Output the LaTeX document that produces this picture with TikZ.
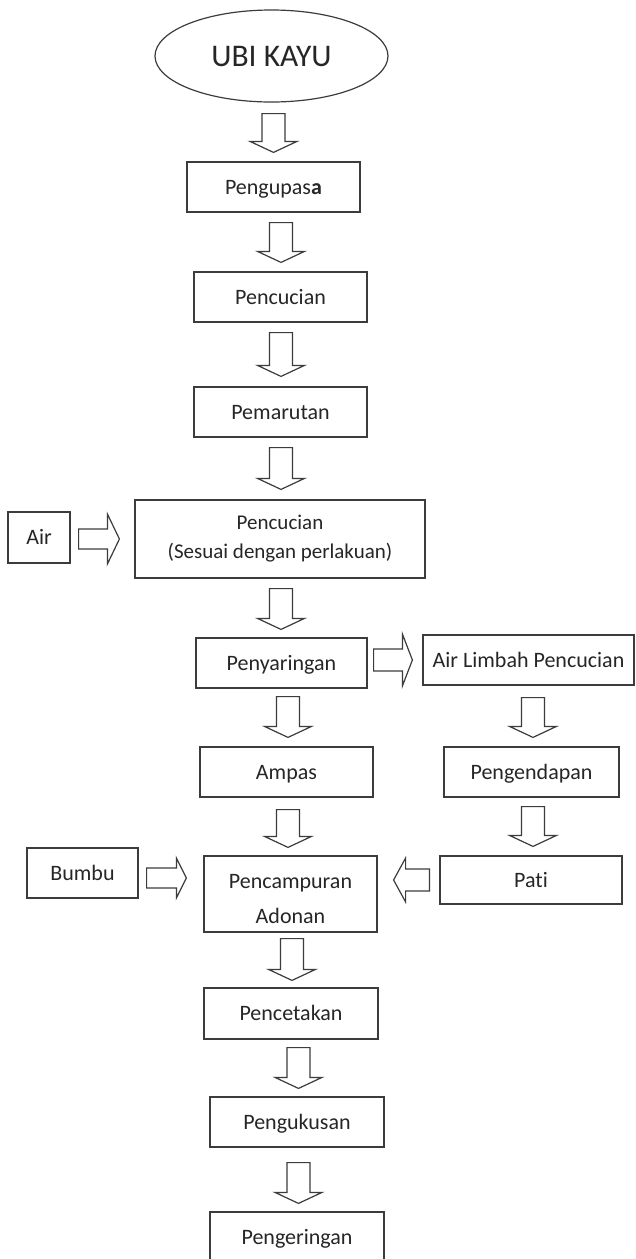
\documentclass[tikz,border=0pt]{standalone}
\usepackage{fontspec}
\setmainfont{Carlito}[Ligatures=NoCommon]
\usetikzlibrary{calc,shapes.geometric}
\definecolor{linec}{HTML}{3C3C3C}
\definecolor{txtc}{HTML}{262626}
\tikzset{
  procbox/.style={draw=linec, line width=1.2pt, rectangle, inner sep=0pt, text=txtc,
    font=\fontsize{22}{26}\selectfont, text height=14.2pt, text depth=0pt},
  twoline/.style={draw=linec, line width=1.2pt, rectangle, inner sep=0pt, text=txtc, align=center},
  startnode/.style={draw=linec, line width=1.2pt, ellipse, inner sep=0pt, text=txtc,
    font=\fontsize{31.5}{36}\selectfont, text height=20.3pt, text depth=0pt},
  blockarrow/.style={draw=linec, line width=1.2pt, fill=white, line join=miter},
}
% vertical block arrow: from node, to node, x centre, gap top, gap bottom
\newcommand\darr[5]{\draw[blockarrow] let \p1=(#1.south), \p2=(#2.north) in
  (#3pt-11.5pt,\y1-#4pt) -- (#3pt+11.5pt,\y1-#4pt) -- (#3pt+11.5pt,\y2+#5pt+11pt)
  -- (#3pt+23.5pt,\y2+#5pt+11pt) -- (#3pt,\y2+#5pt) -- (#3pt-23.5pt,\y2+#5pt+11pt)
  -- (#3pt-11.5pt,\y2+#5pt+11pt) -- cycle;}
% rightward block arrow: from, to, y centre, gap left, gap right, shaft half, head half, head length
\newcommand\rarr[8]{\draw[blockarrow] let \p1=(#1.east), \p2=(#2.west) in
  (\x1+#4pt,-#3pt+#6pt) -- (\x2-#5pt-#8pt,-#3pt+#6pt) -- (\x2-#5pt-#8pt,-#3pt+#7pt)
  -- (\x2-#5pt,-#3pt) -- (\x2-#5pt-#8pt,-#3pt-#7pt) -- (\x2-#5pt-#8pt,-#3pt-#6pt)
  -- (\x1+#4pt,-#3pt-#6pt) -- cycle;}
% leftward block arrow: from (right node), to (left node), y centre, gap at from, gap at tip, shaft half, head half, head length
\newcommand\larr[8]{\draw[blockarrow] let \p1=(#1.west), \p2=(#2.east) in
  (\x1-#4pt,-#3pt+#6pt) -- (\x2+#5pt+#8pt,-#3pt+#6pt) -- (\x2+#5pt+#8pt,-#3pt+#7pt)
  -- (\x2+#5pt,-#3pt) -- (\x2+#5pt+#8pt,-#3pt-#7pt) -- (\x2+#5pt+#8pt,-#3pt-#6pt)
  -- (\x1-#4pt,-#3pt-#6pt) -- cycle;}
\begin{document}
\begin{tikzpicture}[x=1pt,y=-1pt]
\useasboundingbox[fill=white] (0,0) rectangle (636,1259);

\node[startnode, minimum width=233pt, minimum height=92pt] (ubi) at (271.5,56) {UBI KAYU};
\node[procbox, minimum width=173pt, minimum height=50pt] (kupas) at (273.5,187) {Pengupas\textbf{a}};
\node[procbox, minimum width=173pt, minimum height=50pt] (cuci1) at (280.5,297) {Pencucian};
\node[procbox, minimum width=173pt, minimum height=50pt] (marut) at (280.5,412) {Pemarutan};
\node[twoline, minimum width=290pt, minimum height=78pt,
      font=\fontsize{21}{29}\selectfont] (cuci2) at (280,539) {Pencucian\\(Sesuai dengan perlakuan)};
\node[procbox, minimum width=62pt, minimum height=51pt] (air) at (39,537.5) {Air};
\node[procbox, minimum width=171pt, minimum height=50pt] (saring) at (281.5,663) {Penyaringan};
\node[procbox, minimum width=211pt, minimum height=50pt] (limbah) at (528.5,660) {Air Limbah Pencucian};
\node[procbox, minimum width=173pt, minimum height=50pt] (ampas) at (286.5,772) {Ampas};
\node[procbox, minimum width=175pt, minimum height=50pt] (endap) at (531.5,772) {Pengendapan};
\node[procbox, minimum width=111pt, minimum height=50pt] (bumbu) at (82.5,873) {Bumbu};
\node[twoline, minimum width=173pt, minimum height=76pt,
      font=\fontsize{22}{35}\selectfont] (campur) at (290.5,894) {\rule{0pt}{25pt}Pencampuran\\Adonan};
\node[procbox, minimum width=182pt, minimum height=48pt] (pati) at (531,880) {Pati};
\node[procbox, minimum width=174pt, minimum height=51pt] (cetak) at (291,1013.5) {Pencetakan};
\node[procbox, minimum width=174pt, minimum height=50pt] (kukus) at (297,1122) {Pengukusan};
\node[procbox, minimum width=174pt, minimum height=50pt] (kering) at (297,1237) {Pengeringan};

\darr{ubi}{kupas}{273.5}{11}{9}
\darr{kupas}{cuci1}{281}{10}{9}
\darr{cuci1}{marut}{281}{10}{10}
\darr{marut}{cuci2}{281}{10}{10}
\darr{cuci2}{saring}{281}{10}{8}
\darr{saring}{ampas}{288}{8}{9}
\darr{limbah}{endap}{533}{12}{9}
\darr{ampas}{campur}{288}{12}{8}
\darr{endap}{pati}{533}{9}{9}
\darr{campur}{cetak}{292}{6}{7}
\darr{cetak}{kukus}{298.5}{8}{8}
\darr{kukus}{kering}{298.5}{15}{8}

\rarr{air}{cuci2}{539}{8}{15}{10}{25}{12}
\rarr{saring}{limbah}{660}{6}{10}{11}{26}{10}
\rarr{bumbu}{campur}{878}{8}{17}{10}{20}{10}
\larr{pati}{campur}{880}{10}{16}{11}{22}{12}
\end{tikzpicture}
\end{document}
